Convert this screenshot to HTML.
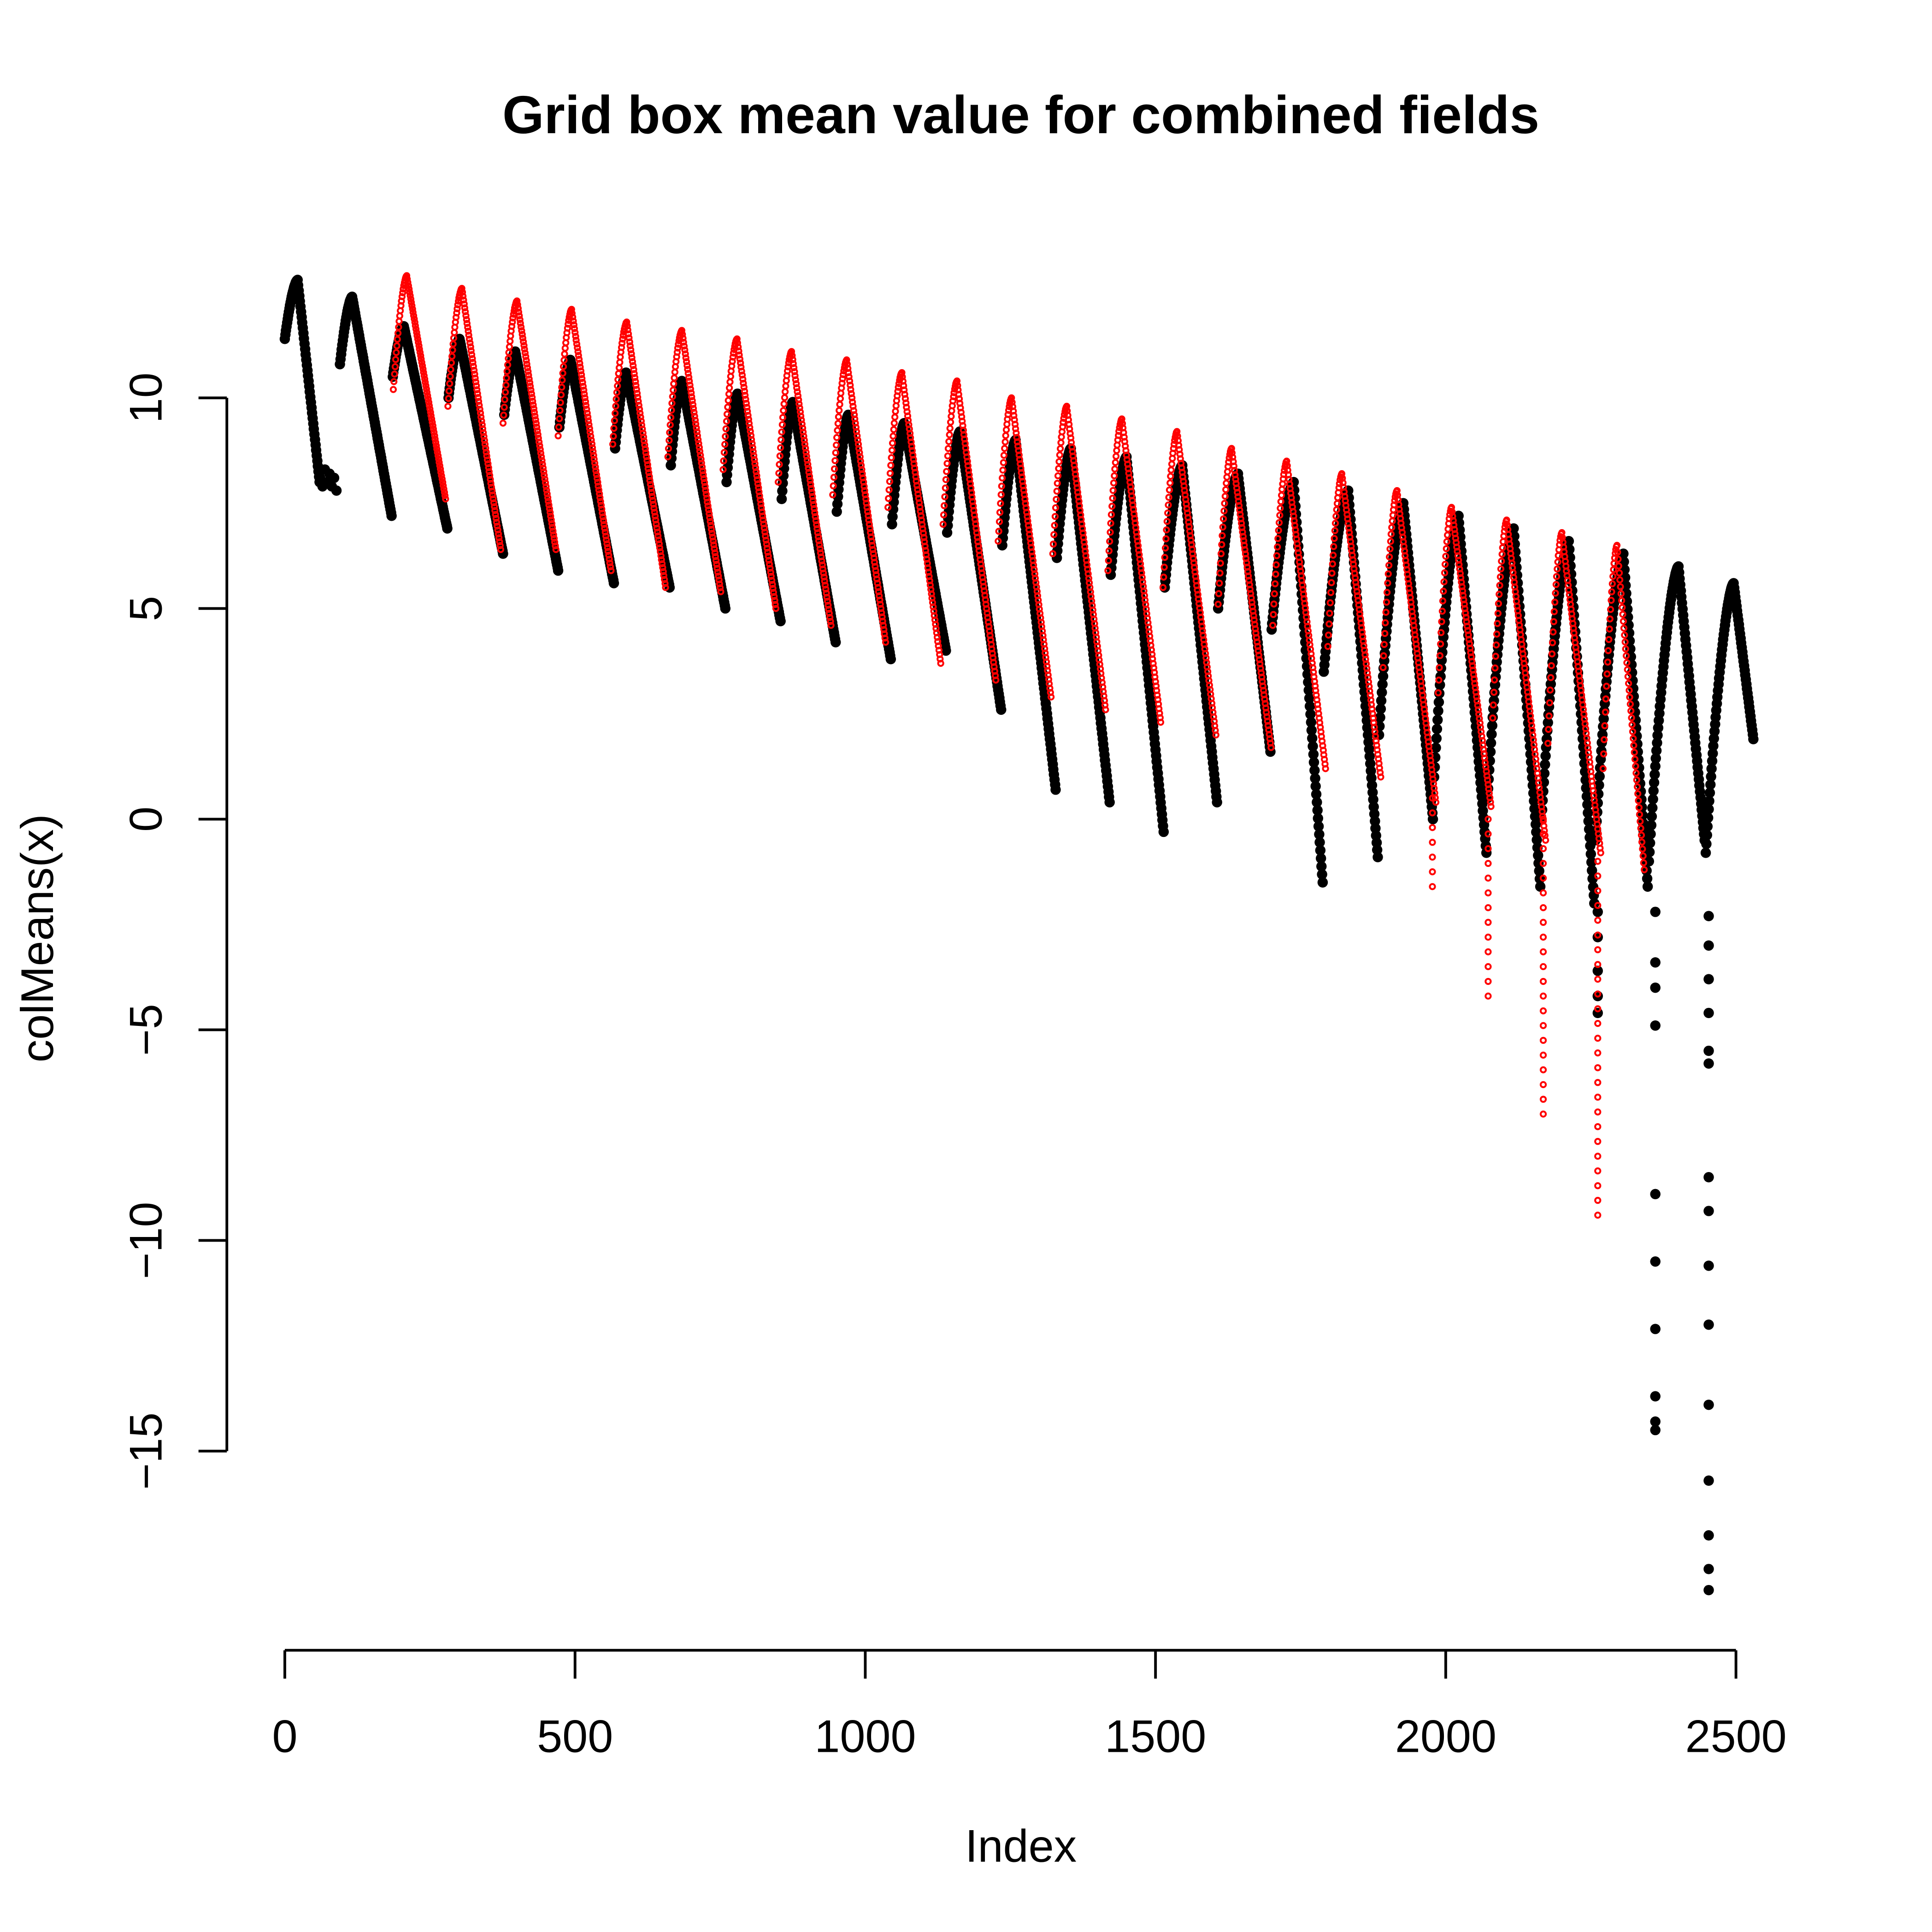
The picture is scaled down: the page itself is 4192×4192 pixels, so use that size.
<!DOCTYPE html>
<html><head><meta charset="utf-8"><style>
html,body{margin:0;padding:0;background:#fff}
svg{display:block}
text{font-family:"Liberation Sans",Arial,sans-serif;fill:#000}
</style></head><body>
<svg id="chart" xmlns="http://www.w3.org/2000/svg" width="4192" height="4192" viewBox="0 0 1567 1567">
<rect x="0" y="0" width="1567" height="1567" fill="#fff"/>
<text x="828" y="108" font-size="43.5" font-weight="bold" text-anchor="middle">Grid box mean value for combined fields</text>
<g id="axes"></g>
<g id="black-series"></g>
<g id="red-series"></g>
<text x="828" y="1510" font-size="37" text-anchor="middle">Index</text>
<text transform="translate(43,761) rotate(-90)" font-size="37" text-anchor="middle">colMeans(x)</text>
</svg>
<script>
// ---- data ----
const xTicks = [0, 500, 1000, 1500, 2000, 2500];
const yTicks = [-15, -10, -5, 0, 5, 10];
const yTickLabels = ["\u221215", "\u221210", "\u22125", "0", "5", "10"];

// black series cycles
const blackStartIdx = [0, 95, 186, 282, 378, 473, 569, 665, 761, 856, 951, 1046, 1141, 1236, 1330, 1423, 1516, 1608, 1700, 1790, 1885, 1980, 2072, 2165, 2258, 2350, 2448];
const blackStartVal = [11.4, 10.8, 10.5, 10.0, 9.6, 9.3, 8.8, 8.4, 8.0, 7.6, 7.3, 7.0, 6.8, 6.5, 6.2, 5.8, 5.5, 5.0, 4.5, 3.5, 2.0, 1.0, 0.5, 0.0, -0.5, -1.0, -0.8];
const blackPeakIdx = [22, 116, 205, 301, 397, 492, 588, 684, 780, 875, 971, 1067, 1163, 1259, 1354, 1450, 1546, 1642, 1738, 1832, 1927, 2022, 2117, 2212, 2306, 2401, 2496];
const blackPeakVal = [12.8, 12.4, 11.7, 11.4, 11.1, 10.9, 10.6, 10.4, 10.1, 9.9, 9.6, 9.4, 9.2, 9.0, 8.8, 8.6, 8.4, 8.2, 8.0, 7.8, 7.5, 7.2, 6.9, 6.6, 6.3, 6.0, 5.6];
const blackEndIdx = [60, 184, 280, 376, 471, 567, 663, 759, 854, 949, 1044, 1139, 1234, 1328, 1421, 1514, 1606, 1698, 1788, 1883, 1978, 2070, 2163, 2256, 2348, 2446, 2530];
const blackEndVal = [8.0, 7.2, 6.9, 6.3, 5.9, 5.6, 5.5, 5.0, 4.7, 4.2, 3.8, 4.0, 2.6, 0.7, 0.4, -0.3, 0.4, 1.6, -1.5, -0.9, 0.0, -0.8, -1.6, -2.0, -1.6, -0.5, 1.9];
// black plateau after first cycle
const blackPlateauIdx = [61, 65, 69, 73, 77, 81, 85, 89];
const blackPlateauVal = [8.1, 7.9, 8.3, 8.0, 8.2, 7.9, 8.1, 7.8];
// black outlier points (deep drops)
const blackOutIdx = [2262, 2262, 2262, 2262, 2262, 2361, 2361, 2361, 2361, 2361, 2361, 2361, 2361, 2361, 2361, 2453, 2453, 2453, 2453, 2453, 2453, 2453, 2453, 2453, 2453, 2453, 2453, 2453, 2453, 2453];
const blackOutVal = [-4.6, -4.2, -3.6, -2.8, -2.2, -2.2, -3.4, -4.0, -4.9, -8.9, -10.5, -12.1, -13.7, -14.3, -14.5, -2.3, -3.0, -3.8, -4.6, -5.5, -5.8, -8.5, -9.3, -10.6, -12.0, -13.9, -15.7, -17.0, -17.8, -18.3];

// red series cycles
const redStartIdx = [187, 281, 376, 471, 565, 660, 755, 850, 944, 1039, 1134, 1229, 1323, 1418, 1513, 1608, 1702, 1797, 1892, 1987, 2081, 2176, 2271];
const redStartVal = [10.2, 9.8, 9.4, 9.1, 8.9, 8.6, 8.3, 8.0, 7.7, 7.4, 7.0, 6.6, 6.3, 5.9, 5.5, 5.1, 4.6, 4.1, 3.6, 3.0, 2.4, 1.8, 1.2];
const redPeakIdx = [210, 305, 400, 494, 589, 684, 779, 873, 968, 1063, 1158, 1252, 1347, 1442, 1537, 1631, 1726, 1821, 1916, 2010, 2105, 2200, 2295];
const redPeakVal = [12.9, 12.6, 12.3, 12.1, 11.8, 11.6, 11.4, 11.1, 10.9, 10.6, 10.4, 10.0, 9.8, 9.5, 9.2, 8.8, 8.5, 8.2, 7.8, 7.4, 7.1, 6.8, 6.5];
const redEndIdx = [277, 372, 467, 562, 656, 751, 846, 941, 1035, 1130, 1225, 1320, 1414, 1509, 1604, 1699, 1793, 1888, 1983, 2078, 2172, 2267, 2342];
const redEndVal = [7.6, 6.4, 6.4, 5.9, 5.5, 5.4, 5.0, 4.6, 4.2, 3.7, 3.3, 2.9, 2.6, 2.3, 2.0, 1.7, 1.2, 1.0, 0.4, 0.3, -0.5, -0.8, -1.2];
// red vertical drop columns
const redColIdx = [1977, 2073, 2168, 2262];
const redColTop = [0.5, 0.0, 0.0, -1.0];
const redColBottom = [-1.8, -4.4, -7.0, -9.6];

// ---- axis functions ----
const X0 = 231, XPX = 1177 / 2500;
const Y0 = 664.4, YPX = 34.17;
function xs(i) { return X0 + i * XPX; }
function ys(v) { return Y0 - v * YPX; }

const NS = "http://www.w3.org/2000/svg";
function mk(tag, attrs, parent) {
  const el = document.createElementNS(NS, tag);
  for (const k in attrs) el.setAttribute(k, attrs[k]);
  parent.appendChild(el);
  return el;
}

// axes
const axes = document.getElementById('axes');
let yl = mk('line', {x1: 184, x2: 184, y1: ys(10), y2: ys(-15), stroke: '#000', 'stroke-width': 2.2}, axes);


yTicks.forEach((t, i) => {
  const tk = mk('line', {x1: 161, x2: 184, y1: ys(t), y2: ys(t), stroke: '#000', 'stroke-width': 2.2}, axes);
  
  
  const lb = mk('text', {transform: 'translate(131,' + ys(t) + ') rotate(-90)', 'font-size': 37, 'text-anchor': 'middle'}, axes);
  lb.textContent = yTickLabels[i];
  
  
});
let xl = mk('line', {x1: xs(0), x2: xs(2500), y1: 1338.5, y2: 1338.5, stroke: '#000', 'stroke-width': 2.2}, axes);


xTicks.forEach(t => {
  const tk = mk('line', {x1: xs(t), x2: xs(t), y1: 1338.5, y2: 1361.5, stroke: '#000', 'stroke-width': 2.2}, axes);
  
  
  const lb = mk('text', {x: xs(t), y: 1421, 'font-size': 37, 'text-anchor': 'middle'}, axes);
  lb.textContent = String(t);
  
  
});

function cycleValue(i, s, sv, p, pv, e, ev) {
  if (i <= p) {
    const t = (i - s) / Math.max(1, p - s);
    return sv + (pv - sv) * (1 - Math.pow(1 - t, 1.6));
  }
  const t = (i - p) / Math.max(1, e - p);
  return pv - (pv - ev) * t;
}

// black points
const bg = document.getElementById('black-series');
for (let c = 0; c < blackStartIdx.length; c++) {
  for (let i = blackStartIdx[c]; i <= blackEndIdx[c]; i++) {
    const v = cycleValue(i, blackStartIdx[c], blackStartVal[c], blackPeakIdx[c], blackPeakVal[c], blackEndIdx[c], blackEndVal[c]);
    const pt = mk('circle', {cx: xs(i).toFixed(1), cy: ys(v).toFixed(1), r: 4.2, fill: '#000'}, bg);
    
    
  }
}
for (let j = 0; j < blackPlateauIdx.length; j++) {
  const pt = mk('circle', {cx: xs(blackPlateauIdx[j]).toFixed(1), cy: ys(blackPlateauVal[j]).toFixed(1), r: 4.2, fill: '#000'}, bg);
  
  
}
for (let j = 0; j < blackOutIdx.length; j++) {
  const pt = mk('circle', {cx: xs(blackOutIdx[j]).toFixed(1), cy: ys(blackOutVal[j]).toFixed(1), r: 4.2, fill: '#000'}, bg);
  
  
}

// red points
const rg = document.getElementById('red-series');
for (let c = 0; c < redStartIdx.length; c++) {
  for (let i = redStartIdx[c]; i <= redEndIdx[c]; i++) {
    const v = cycleValue(i, redStartIdx[c], redStartVal[c], redPeakIdx[c], redPeakVal[c], redEndIdx[c], redEndVal[c]);
    const pt = mk('circle', {cx: xs(i).toFixed(1), cy: ys(v).toFixed(1), r: 2.1, fill: 'none', stroke: '#f00', 'stroke-width': 1.5}, rg);
    
    
  }
}
for (let c = 0; c < redColIdx.length; c++) {
  for (let v = redColTop[c]; v >= redColBottom[c] - 0.01; v -= 0.35) {
    const pt = mk('circle', {cx: xs(redColIdx[c]).toFixed(1), cy: ys(v).toFixed(1), r: 2.1, fill: 'none', stroke: '#f00', 'stroke-width': 1.5}, rg);
    
    
  }
}
</script>
</body></html>
